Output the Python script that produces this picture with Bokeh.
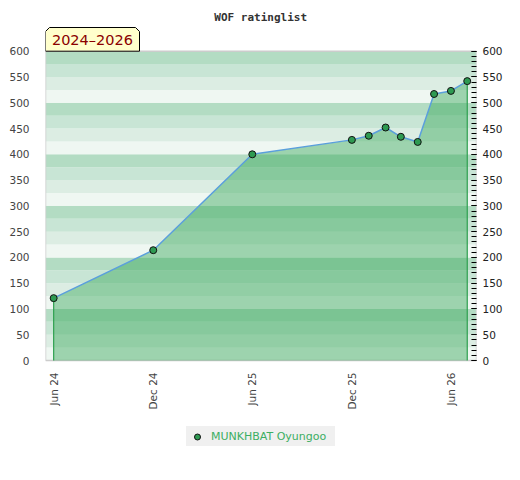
import math
import pandas as pd
from bokeh.plotting import figure
from bokeh.core.properties import value
from bokeh.models import (ColumnDataSource, Range1d, BoxAnnotation, PolyAnnotation, Label,
                          Legend, LegendItem, LinearAxis, FixedTicker)
from bokeh.embed import file_html
from bokeh.resources import INLINE

# ---- data ----
rating_dates = ["2024-06-01", "2024-12-01", "2025-06-01", "2025-12-01", "2026-01-01",
                "2026-02-01", "2026-03-01", "2026-04-01", "2026-05-01", "2026-06-01", "2026-07-01"]
ratings = [121, 214, 400, 428, 436, 452, 434, 424, 517, 523, 542]
player = "MUNKHBAT Oyungoo"
period_label = "2024\u20132026"
chart_title = "WOF ratinglist"
tick_dates = ["2024-06-01", "2024-12-01", "2025-06-01", "2025-12-01", "2026-06-01"]
tick_labels = ["Jun 24", "Dec 24", "Jun 25", "Dec 25", "Jun 26"]
y_ticks = list(range(0, 601, 50))
y_minor = list(range(0, 601, 10))

dates = pd.to_datetime(rating_dates)
src = ColumnDataSource(dict(date=dates, rating=ratings))
tick_src = ColumnDataSource(dict(date=pd.to_datetime(tick_dates), y=[0] * len(tick_dates),
                                 label=tick_labels))

x_start = pd.Timestamp("2024-05-17")
x_end = pd.Timestamp("2026-07-18")
Y_MAX = 600
# the frame spans the whole canvas height; the rating scale 0..600 sits inside it
Y_TOP = 694.5
Y_BOTTOM = -209.5

p = figure(width=516, height=470, x_axis_type="datetime", x_axis_location=None,
           output_backend="svg", toolbar_location=None,
           x_range=Range1d(x_start, x_end), y_range=Range1d(Y_BOTTOM, Y_TOP),
           min_border_left=45, min_border_right=40, min_border_top=2, min_border_bottom=2)
p.background_fill_color = "white"
p.border_fill_color = "white"
p.outline_line_color = None
p.xgrid.visible = False
p.ygrid.visible = False

# background stripes
stripe_colors = ["#eff7f2", "#dcede3", "#c8e5d5", "#b3dcc3"]
for i, lo in enumerate(range(0, Y_MAX, 25)):
    p.add_layout(BoxAnnotation(bottom=lo, top=lo + 25, fill_color=stripe_colors[i % 4],
                               fill_alpha=1, line_color=None, level="underlay"))
p.add_layout(BoxAnnotation(bottom=0, top=Y_MAX, fill_color=None, fill_alpha=0,
                           line_color="#cccccc", line_alpha=1, line_width=1.5,
                           level="underlay"))

p.varea(x="date", y1=0, y2="rating", source=src, fill_color="#35a657", fill_alpha=0.44)
p.segment(x0=[dates[0], dates[-1]], y0=[0, 0], x1=[dates[0], dates[-1]],
          y1=[ratings[0], ratings[-1]], line_color="#2ea04f", line_width=1.2)
p.line(x="date", y="rating", source=src, line_color="#5b9fdc", line_width=1.5)
pts = p.scatter(x="date", y="rating", source=src, size=7, fill_color="#2e9a52",
                line_color="#111111", line_width=1)

# x tick labels (rotated, reading upwards), placed below the rating scale
p.text(x="date", y="y", text="label", source=tick_src, angle=math.pi / 2,
       text_align="right", text_baseline="middle", y_offset=12,
       text_font=value("DejaVu Sans"), text_font_size="10.5px", text_color="#444444")

# left y axis
ya = p.yaxis[0]
ya.ticker = FixedTicker(ticks=y_ticks)
ya.major_tick_line_color = None
ya.minor_tick_line_color = None
ya.axis_line_color = None
ya.major_label_standoff = 10
ya.major_label_text_font = "DejaVu Sans"
ya.major_label_text_font_size = "10.5px"
ya.major_label_text_color = "#444444"

# right y axis
ry = LinearAxis(ticker=FixedTicker(ticks=y_ticks, minor_ticks=y_minor))
ry.axis_line_color = None
ry.major_tick_in = 5
ry.major_tick_out = 0
ry.minor_tick_in = 5
ry.minor_tick_out = 0
ry.major_tick_line_color = "black"
ry.minor_tick_line_color = "black"
ry.major_label_standoff = 6
ry.major_label_text_font = "DejaVu Sans"
ry.major_label_text_font_size = "10.5px"
ry.major_label_text_color = "#222222"
p.add_layout(ry, "right")

# title (screen units relative to the frame's bottom-left)
p.add_layout(Label(x=215.2, y=450.7, x_units="screen", y_units="screen", text=chart_title,
                   text_align="center", text_baseline="alphabetic",
                   text_font="DejaVu Sans Mono", text_font_style="bold",
                   text_font_size="11px", text_color="#333333"))

# period box
p.add_layout(PolyAnnotation(xs=[0, 0, 4, 90, 94, 94], ys=[417.3, 437, 441, 441, 437, 417.3],
                            xs_units="screen", ys_units="screen",
                            fill_color="#ffffcc", fill_alpha=1,
                            line_color="black", line_alpha=1, line_width=1))
p.add_layout(Label(x=6.4, y=428.5, x_units="screen", y_units="screen", text=period_label,
                   text_align="left", text_baseline="alphabetic",
                   text_font="DejaVu Sans", text_font_size="14.5px", text_color="#8b0000"))

legend = Legend(items=[LegendItem(label=player, renderers=[pts])], location=(141, 22),
                background_fill_color="#f0f0f0", background_fill_alpha=1,
                border_line_color=None, padding=0, margin=0, spacing=0,
                glyph_width=22, glyph_height=15, label_height=20, label_width=124,
                label_standoff=3,
                label_text_font="DejaVu Sans", label_text_font_size="11px",
                label_text_color="#3cae62")
p.add_layout(legend)

open("out.html", "w").write(file_html(p, INLINE))
